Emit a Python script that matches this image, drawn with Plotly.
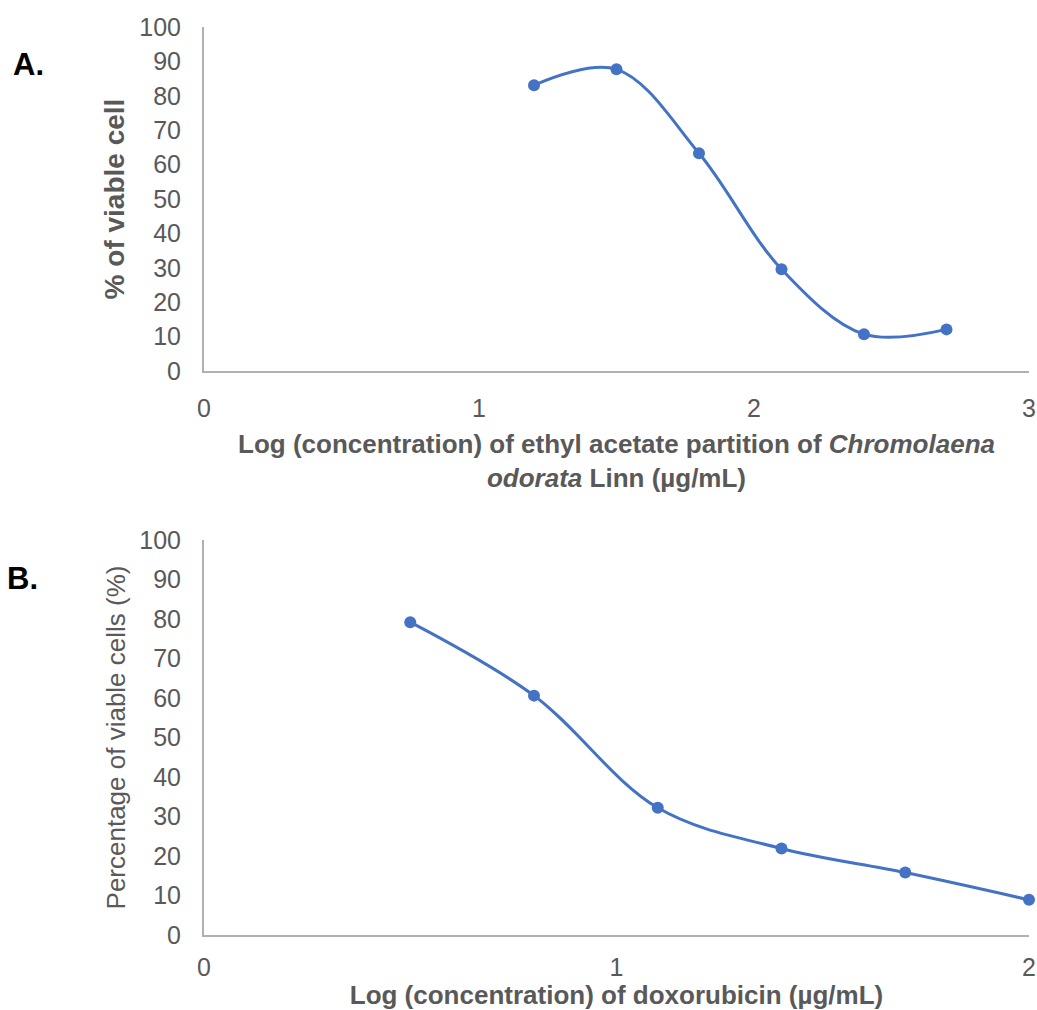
import plotly.graph_objects as go

# Panel A data
a_x = [1.2, 1.5, 1.8, 2.1, 2.4, 2.7]
a_y = [83.1, 87.7, 63.3, 29.6, 10.7, 12.1]
# Panel B data
b_x = [0.5, 0.8, 1.1, 1.4, 1.7, 2.0]
b_y = [79.2, 60.6, 32.2, 21.9, 15.8, 8.9]

a_xticks = [0, 1, 2, 3]
b_xticks = [0, 1, 2]
yticks = list(range(0, 101, 10))

W, H = 1037, 1010
BLUE = "#4472C4"
GRAY = "#595959"
AXIS = "#B0B0B0"
FONT = "Liberation Sans, Arial, sans-serif"


def px_x(p):
    return p / W


def px_y(p):
    return 1 - p / H


fig = go.Figure()
fig.add_trace(go.Scatter(x=a_x, y=a_y, mode="lines+markers",
                         line=dict(color=BLUE, width=3, shape="spline", smoothing=1),
                         marker=dict(color=BLUE, size=12),
                         xaxis="x", yaxis="y", showlegend=False, cliponaxis=False))
fig.add_trace(go.Scatter(x=b_x, y=b_y, mode="lines+markers",
                         line=dict(color=BLUE, width=3, shape="spline", smoothing=1),
                         marker=dict(color=BLUE, size=12),
                         xaxis="x2", yaxis="y2", showlegend=False, cliponaxis=False))

xdom = [px_x(204), px_x(1029)]
ya_dom = [px_y(371), px_y(27)]
yb_dom = [px_y(935), px_y(540)]

tickfont = dict(family=FONT, size=25, color=GRAY)
titlefont = dict(family=FONT, size=26, color=GRAY)

common_x = dict(showgrid=False, zeroline=False, showline=True, linecolor=AXIS, linewidth=2,
                ticks="", tickfont=tickfont, automargin=False)
common_y = dict(showgrid=False, zeroline=False, showline=True, linecolor=AXIS, linewidth=2,
                ticks="", tickfont=tickfont, range=[0, 100], tickvals=yticks,
                ticklabelstandoff=16, automargin=False)

fig.update_layout(
    template="none",
    width=W, height=H,
    margin=dict(l=0, r=0, t=0, b=0, autoexpand=False),
    paper_bgcolor="white", plot_bgcolor="white",
    xaxis=dict(domain=xdom, anchor="y", range=[0, 3], tickvals=a_xticks, ticklabelstandoff=14,
               title=dict(text="<b>Log (concentration) of ethyl acetate partition of <i>Chromolaena</i><br><i>odorata</i> Linn (µg/mL)</b>",
                          font=titlefont, standoff=14),
               **common_x),
    yaxis=dict(domain=ya_dom, anchor="x",
               title=dict(text="<b>% of viable cell</b>", font=dict(family=FONT, size=28, color=GRAY), standoff=6),
               **common_y),
    xaxis2=dict(domain=xdom, anchor="y2", range=[0, 2], tickvals=b_xticks, ticklabelstandoff=9,
                title=dict(text="<b>Log (concentration) of doxorubicin (µg/mL)</b>",
                           font=titlefont, standoff=20),
                **common_x),
    yaxis2=dict(domain=yb_dom, anchor="x2",
                title=dict(text="Percentage of viable cells (%)", font=dict(family=FONT, size=26, color=GRAY), standoff=6),
                **common_y),
    annotations=[
        dict(text="<b>A.</b>", x=px_x(11), y=px_y(64), xref="paper", yref="paper",
             xanchor="left", yanchor="middle", showarrow=False,
             font=dict(family=FONT, size=31, color="black")),
        dict(text="<b>B.</b>", x=px_x(5), y=px_y(578), xref="paper", yref="paper",
             xanchor="left", yanchor="middle", showarrow=False,
             font=dict(family=FONT, size=31, color="black")),
    ],
)

# remove the browser's default page margin so the figure fills the window exactly
fig.write_html("out.html",
               config={"displayModeBar": False},
               post_script="document.body.style.margin='0';"
                           "document.documentElement.style.overflow='hidden';")
